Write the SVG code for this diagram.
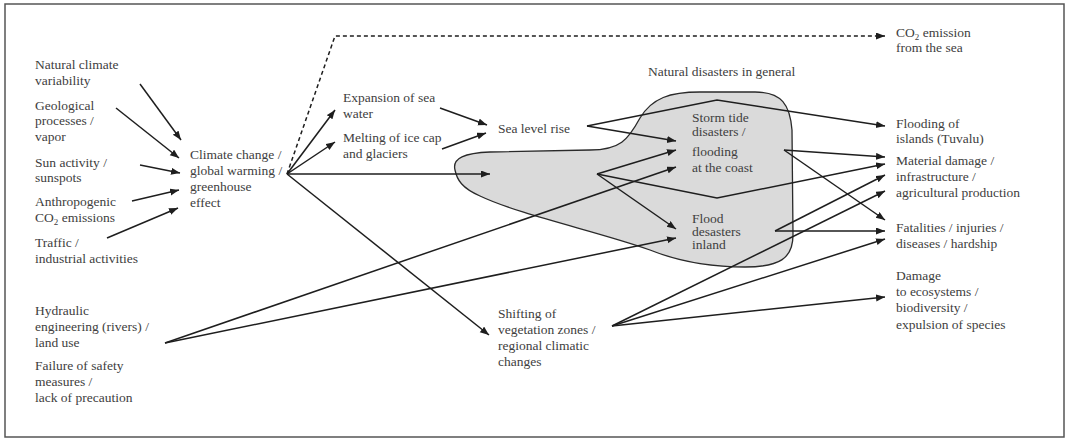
<svg xmlns="http://www.w3.org/2000/svg" width="1069" height="439" viewBox="0 0 1069 439">
<style>
text{font-family:"Liberation Serif","Times New Roman",serif;font-size:13.5px;fill:#404040}
.c{fill:none;stroke:#1e1e1e;stroke-width:1.5;marker-end:url(#ah)}
.d{stroke-dasharray:4 3}
.sub{font-size:9px}
</style>
<defs>
<marker id="ah" markerUnits="userSpaceOnUse" markerWidth="10" markerHeight="8" refX="9" refY="3.5" orient="auto">
<path d="M0,0 L9,3.5 L0,7 z" fill="#1e1e1e"/>
</marker>
</defs>
<rect x="5" y="4" width="1059" height="433" fill="#fff" stroke="#555" stroke-width="1.5"/>
<g id="blob">
<path d="M455,170 C452,158 465,153 490,152 L590,150 C620,150 628,140 640,118 C652,98 670,92 700,92 L755,92 C782,92 790,105 792,130 L793,235 C793,258 780,267 745,267 C710,267 680,262 650,250 C600,232 520,215 480,196 C462,188 457,180 455,170 Z" fill="#dadada" stroke="#2a2a2a" stroke-width="1.3"/>
<text x="648" y="76">Natural disasters in general</text>
</g>
<g id="connectors">
<path class="c" d="M140,84 L181,140"/>
<path class="c" d="M116,108 L179,158"/>
<path class="c" d="M140,165 L180,173"/>
<path class="c" d="M132,201 L179,190"/>
<path class="c" d="M107,238 L178,208"/>
<path class="c d" d="M287,174 L335,36 L885,36"/>
<path class="c" d="M287,174 L335,110"/>
<path class="c" d="M287,174 L335,142"/>
<path class="c" d="M287,174 L490,174"/>
<path class="c" d="M287,174 L489,335"/>
<path class="c" d="M440,108 L487,125"/>
<path class="c" d="M442,149 L486,133"/>
<path class="c" d="M587,126 L676,141"/>
<path class="c" d="M587,126 L717,100 L885,126"/>
<path class="c" d="M597,174 L676,150"/>
<path class="c" d="M597,174 L676,229"/>
<path class="c" d="M597,174 L717,198 L885,164"/>
<path class="c" d="M165,343 L676,167"/>
<path class="c" d="M165,343 L676,238"/>
<path class="c" d="M784,150 L885,157"/>
<path class="c" d="M784,150 L885,220"/>
<path class="c" d="M775,231 L885,175"/>
<path class="c" d="M775,231 L885,231"/>
<path class="c" d="M612,326 L885,191"/>
<path class="c" d="M612,326 L885,239"/>
<path class="c" d="M612,326 L885,297"/>
</g>
<g id="n-natural"><text x="35" y="69">Natural climate</text><text x="35" y="85">variability</text></g>
<g id="n-geological"><text x="35" y="110">Geological</text><text x="35" y="125">processes /</text><text x="35" y="141">vapor</text></g>
<g id="n-sun"><text x="35" y="167">Sun activity /</text><text x="35" y="182">sunspots</text></g>
<g id="n-anthro"><text x="35" y="206">Anthropogenic</text><text x="35" y="222">CO<tspan class="sub" dy="3">2</tspan><tspan dy="-3"> emissions</tspan></text></g>
<g id="n-traffic"><text x="35" y="247">Traffic /</text><text x="35" y="263">industrial activities</text></g>
<g id="n-hydraulic"><text x="35" y="315">Hydraulic</text><text x="35" y="331">engineering (rivers) /</text><text x="35" y="347">land use</text></g>
<g id="n-failure"><text x="35" y="370">Failure of safety</text><text x="35" y="386">measures /</text><text x="35" y="402">lack of precaution</text></g>
<g id="n-climate"><text x="190" y="159">Climate change /</text><text x="190" y="175">global warming /</text><text x="190" y="191">greenhouse</text><text x="190" y="207">effect</text></g>
<g id="n-expansion"><text x="343" y="102">Expansion of sea</text><text x="343" y="118">water</text></g>
<g id="n-melting"><text x="343" y="142">Melting of ice cap</text><text x="343" y="158">and glaciers</text></g>
<g id="n-sealevel"><text x="498" y="133">Sea level rise</text></g>
<g id="n-shifting"><text x="498" y="318">Shifting of</text><text x="498" y="334">vegetation zones /</text><text x="498" y="350">regional climatic</text><text x="498" y="366">changes</text></g>
<g id="n-storm"><text x="692" y="122">Storm tide</text><text x="692" y="136">disasters /</text><text x="692" y="156">flooding</text><text x="692" y="172">at the coast</text></g>
<g id="n-flood"><text x="692" y="223">Flood</text><text x="692" y="236">desasters</text><text x="692" y="249">inland</text></g>
<g id="n-co2sea"><text x="896" y="37">CO<tspan class="sub" dy="3">2</tspan><tspan dy="-3"> emission</tspan></text><text x="896" y="52">from the sea</text></g>
<g id="n-islands"><text x="896" y="128">Flooding of</text><text x="896" y="143">islands (Tuvalu)</text></g>
<g id="n-material"><text x="896" y="165">Material damage /</text><text x="896" y="181">infrastructure /</text><text x="896" y="197">agricultural production</text></g>
<g id="n-fatalities"><text x="896" y="232">Fatalities / injuries /</text><text x="896" y="248">diseases / hardship</text></g>
<g id="n-eco"><text x="896" y="280">Damage</text><text x="896" y="296">to ecosystems /</text><text x="896" y="312">biodiversity /</text><text x="896" y="329">expulsion of species</text></g>
</svg>
